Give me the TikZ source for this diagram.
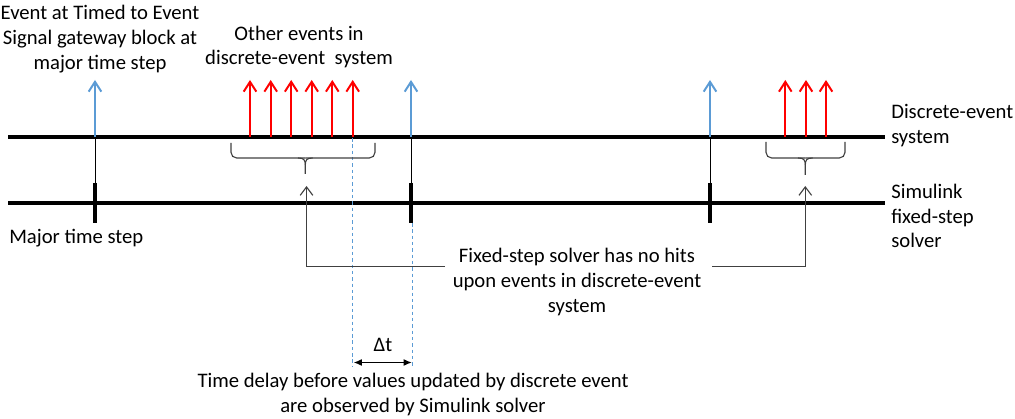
\documentclass[tikz,border=0pt]{standalone}
\usepackage{fontspec}
\setmainfont{Carlito}
\usetikzlibrary{arrows.meta}
\definecolor{evblue}{RGB}{91,155,213}
\definecolor{evred}{RGB}{255,0,0}
\definecolor{callgray}{RGB}{64,64,64}
\begin{document}
\begin{tikzpicture}[x=0.025cm,y=-0.025cm,
  lbl/.style={font=\fontsize{14.7}{17.7}\selectfont, align=center, inner sep=0pt, text=black},
  mainline/.style={line width=2.5pt, black},
  tick/.style={line width=3.2pt, black},
  thinline/.style={line width=0.7pt, black},
  bluearrow/.style={line width=1.4pt, evblue, -{Straight Barb[length=7pt,width=9pt,line width=1.4pt]}},
  redarrow/.style={line width=1.4pt, evred, -{Straight Barb[length=7pt,width=9pt,line width=1.4pt]}},
  bluedash/.style={line width=0.7pt, evblue, dash pattern=on 2.5pt off 2pt},
  brace/.style={line width=0.8pt, callgray, rounded corners=4pt},
  callout/.style={line width=0.8pt, callgray},
  callarrow/.style={line width=0.8pt, callgray, -{Straight Barb[length=6pt,width=9pt,line width=0.8pt]}},
  dtarrow/.style={line width=1.1pt, black, {Latex[length=6pt,width=5pt]}-{Latex[length=6pt,width=5pt]}}
]
\useasboundingbox (0,0) rectangle (1015,419);

% timelines
\coordinate (desL) at (8,137);
\coordinate (desR) at (885,137);
\coordinate (simL) at (8,203);
\coordinate (simR) at (885,203);
\draw[mainline] (desL) -- (desR);
\draw[mainline] (simL) -- (simR);

% major time steps
\foreach \n/\x in {a/95, b/411, c/710} {
  \coordinate (base\n) at (\x,137);
  \coordinate (top\n) at (\x,80);
  \coordinate (tickT\n) at (\x,183);
  \coordinate (tickB\n) at (\x,223);
  \draw[thinline] (base\n) -- (tickT\n);
  \draw[tick] (tickT\n) -- (tickB\n);
  \draw[bluearrow] (base\n) -- (top\n);
}

% red events
\foreach \i/\x in {1/250, 2/270.7, 3/291.2, 4/311.7, 5/332.3, 6/352.7, 7/785.3, 8/806, 9/826} {
  \coordinate (rb\i) at (\x,137);
  \coordinate (rt\i) at (\x,80);
  \draw[redarrow] (rb\i) -- (rt\i);
}

% dashed blue lines
\coordinate (dashAtop) at (352.7,138);
\coordinate (dashAbot) at (352.7,367);
\coordinate (dashBtop) at (412.5,223);
\coordinate (dashBbot) at (412.5,367);
\draw[bluedash] (dashAtop) -- (dashAbot);
\draw[bluedash] (dashBtop) -- (dashBbot);

% delta t
\coordinate (dtL) at (353.5,362.5);
\coordinate (dtR) at (412,362.5);
\draw[dtarrow] (dtL) -- (dtR);
\node[lbl] (dt) at (383,345) {Δt};

% braces
\draw[brace] (231,143) -- (231,158) -- (305.3,158);
\draw[brace] (375,143) -- (375,158) -- (305.3,158);
\draw[line width=0.8pt, callgray] (298,158) .. controls (304,158) and (305.3,160) .. (305.3,165) -- (305.3,174);
\draw[line width=0.8pt, callgray] (312.6,158) .. controls (306.6,158) and (305.3,160) .. (305.3,165);
\draw[brace] (766,142) -- (766,158) -- (805.3,158);
\draw[brace] (845,142) -- (845,158) -- (805.3,158);
\draw[line width=0.8pt, callgray] (798,158) .. controls (804,158) and (805.3,160) .. (805.3,165) -- (805.3,175);
\draw[line width=0.8pt, callgray] (812.6,158) .. controls (806.6,158) and (805.3,160) .. (805.3,165);

% callouts
\node[lbl] (fixed) at (577,282) {Fixed-step solver has no hits\\upon events in discrete-event\\system};
\coordinate (cL) at (445,266.5);
\coordinate (cLc) at (306.5,266.5);
\coordinate (cLt) at (306.5,186);
\coordinate (cR) at (712,266.5);
\coordinate (cRc) at (805.3,266.5);
\coordinate (cRt) at (805.3,186);
\draw[callarrow] (cL) -- (cLc) -- (cLt);
\draw[callarrow] (cR) -- (cRc) -- (cRt);

% labels
\node[lbl] (evt) at (100,39) {Event at Timed to Event\\Signal gateway block at\\major time step};
\node[lbl] (other) at (299,47) {Other events in\\discrete-event\ \ system};
\node[lbl, anchor=west, align=left] (des) at (891,126) {Discrete-event\\system};
\node[lbl, anchor=west, align=left] (sim) at (891,216) {Simulink\\fixed-step\\solver};
\node[lbl, anchor=west, align=left] (major) at (9,238) {Major time step};
\node[lbl, anchor=south] (delay) at (413,416) {Time delay before values updated by discrete event\\are observed by Simulink solver};
\end{tikzpicture}
\end{document}
